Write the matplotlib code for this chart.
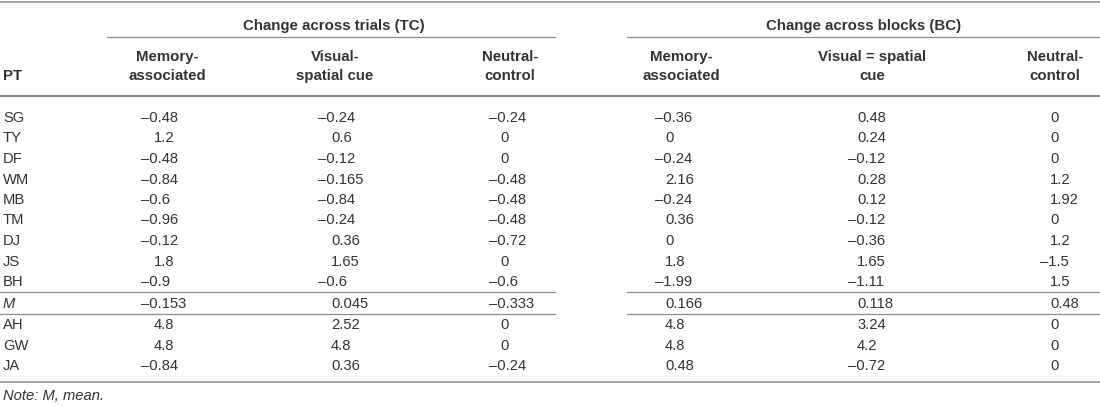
import matplotlib.pyplot as plt

plt.rcParams['font.family'] = ['Liberation Sans', 'DejaVu Sans']

participants = ['SG', 'TY', 'DF', 'WM', 'MB', 'TM', 'DJ', 'JS', 'BH', 'M', 'AH', 'GW', 'JA']

tc_memory = [-0.48, 1.2, -0.48, -0.84, -0.6, -0.96, -0.12, 1.8, -0.9, -0.153, 4.8, 4.8, -0.84]
tc_visual = [-0.24, 0.6, -0.12, -0.165, -0.84, -0.24, 0.36, 1.65, -0.6, 0.045, 2.52, 4.8, 0.36]
tc_neutral = [-0.24, 0, 0, -0.48, -0.48, -0.48, -0.72, 0, -0.6, -0.333, 0, 0, -0.24]
bc_memory = [-0.36, 0, -0.24, 2.16, -0.24, 0.36, 0, 1.8, -1.99, 0.166, 4.8, 4.8, 0.48]
bc_visual = [0.48, 0.24, -0.12, 0.28, 0.12, -0.12, -0.36, 1.65, -1.11, 0.118, 3.24, 4.2, -0.72]
bc_neutral = [0, 0, 0, 1.2, 1.92, 0, 1.2, -1.5, 1.5, 0.48, 0, 0, 0]

group_titles = ['Change across trials (TC)', 'Change across blocks (BC)']
col_titles = [('Memory-', 'associated'), ('Visual-', 'spatial cue'), ('Neutral-', 'control'),
              ('Memory-', 'associated'), ('Visual = spatial', 'cue'), ('Neutral-', 'control')]
columns = [tc_memory, tc_visual, tc_neutral, bc_memory, bc_visual, bc_neutral]

# layout in pixels (y = baseline)
W, H = 1100, 407
col_x = [141, 318, 489, 655, 848, 1040]
pos_shift = [13, 13, 11, 10, 9, 10]
title_x = [167, 335, 510, 681, 872, 1055]
row_y = [122, 142.5, 163, 183.5, 204, 224.5, 245, 265.5, 286, 308, 329, 349.5, 370]
txt = '#333333'
line = '#8c8c8c'
fs = 10.6
fs_head = 10.8


def fmt(v):
    return f'{v:g}'.replace('-', '\u2013')


fig = plt.figure(figsize=(W / 100, H / 100), dpi=100)
ax = fig.add_axes([0, 0, 1, 1])
ax.set_xlim(0, W)
ax.set_ylim(H, 0)
ax.axis('off')

# rules
ax.plot([0, W], [2, 2], color=line, lw=1.1)
ax.plot([107, 555], [36.5, 36.5], color=line, lw=0.9)
ax.plot([627, W], [36.5, 36.5], color=line, lw=0.9)
ax.plot([0, W], [95.5, 95.5], color=line, lw=1.6)
for y in [292, 314]:
    ax.plot([0, 555], [y, y], color=line, lw=0.9)
    ax.plot([627, W], [y, y], color=line, lw=0.9)
ax.plot([0, W], [382, 382], color=line, lw=1.1)

# headers
ax.text(334, 30, group_titles[0], ha='center', va='baseline', fontsize=fs_head, fontweight='bold', color=txt)
ax.text(864, 30, group_titles[1], ha='center', va='baseline', fontsize=fs_head, fontweight='bold', color=txt)
for x, (t1, t2) in zip(title_x, col_titles):
    ax.text(x, 61, t1, ha='center', va='baseline', fontsize=fs_head, fontweight='bold', color=txt)
    ax.text(x, 80, t2, ha='center', va='baseline', fontsize=fs_head, fontweight='bold', color=txt)
ax.text(3, 80, 'PT', ha='left', va='baseline', fontsize=fs_head, fontweight='bold', color=txt)

# body
for i, (p, y) in enumerate(zip(participants, row_y)):
    style = 'italic' if p == 'M' else 'normal'
    ax.text(3, y, p, ha='left', va='baseline', fontsize=fs, style=style, color=txt)
    for x, dx, col in zip(col_x, pos_shift, columns):
        v = col[i]
        xx = x if v < 0 else x + dx
        ax.text(xx, y, fmt(v), ha='left', va='baseline', fontsize=fs, color=txt)

ax.text(3, 400, 'Note: M, mean.', ha='left', va='baseline', fontsize=fs, style='italic', color=txt)

fig.savefig('out.png', dpi=100)
